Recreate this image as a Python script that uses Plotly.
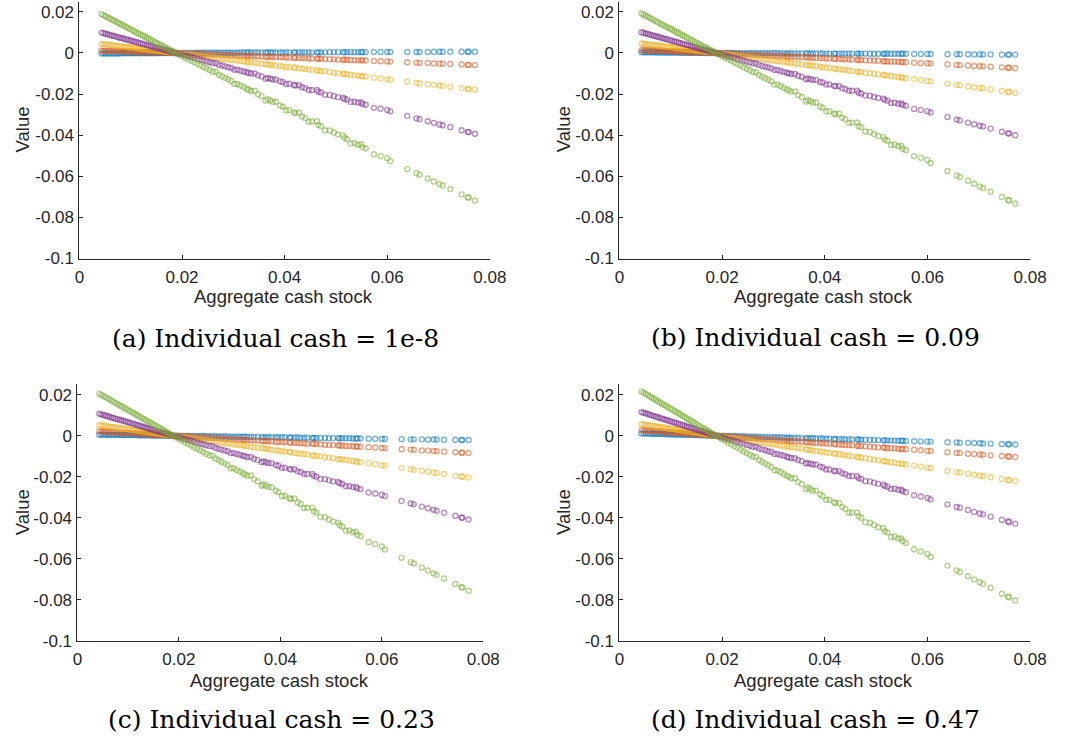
import plotly.graph_objects as go

# Aggregate cash stock grid (shared by the four panels)
agg_cash = [
    0.0043, 0.0047, 0.0051, 0.0055, 0.0059, 0.0063, 0.0067, 0.0071, 0.0075, 0.0079,
    0.0083, 0.0087, 0.0091, 0.0095, 0.0099, 0.0103, 0.0107, 0.0111, 0.0115, 0.0119,
    0.0123, 0.0127, 0.0131, 0.0135, 0.0139, 0.0143, 0.0147, 0.0151, 0.0155, 0.0159,
    0.0163, 0.0167, 0.0171, 0.0175, 0.0179, 0.0183,
    0.0188, 0.0194, 0.0200, 0.0206, 0.0212, 0.0218, 0.0224, 0.0230, 0.0236, 0.0242,
    0.0248, 0.0254, 0.0260, 0.0266, 0.0272, 0.0278, 0.0284, 0.0290, 0.0296, 0.0302,
    0.0308, 0.0314, 0.0320, 0.0326, 0.0330,
    0.0335, 0.0342, 0.0348, 0.0355, 0.0363, 0.0367, 0.0372, 0.0377, 0.0383, 0.0391,
    0.0396, 0.0403, 0.0409, 0.0418, 0.0421, 0.0428, 0.0434, 0.0440, 0.0447, 0.0453,
    0.0463, 0.0466, 0.0471, 0.0479, 0.0488, 0.0496, 0.0504, 0.0514, 0.0517, 0.0522,
    0.0529, 0.0536, 0.0543, 0.0549, 0.0552, 0.0558, 0.0574, 0.0587, 0.0600, 0.0606,
    0.0639, 0.0657, 0.0663, 0.0679, 0.0691, 0.0702, 0.0708, 0.0723, 0.0745, 0.0757,
    0.0759, 0.0771,
]

# ---------------- panel (a): individual cash = 1e-8 ----------------
blue_a = [
    -0.0002, -0.0002, -0.0002, -0.0002, -0.0002, -0.0002, -0.0002, -0.0002, -0.0002, -0.0002,
    -0.0001, -0.0001, -0.0001, -0.0001, -0.0001, -0.0001, -0.0001, -0.0001, -0.0001, -0.0001,
    -0.0001, -0.0001, -0.0001, -0.0001, -0.0001, -0.0001, -0.0001, -0.0001, 0.0, 0.0,
    0.0, 0.0, 0.0, 0.0, 0.0, 0.0,
    0.0, 0.0, 0.0, 0.0, 0.0, 0.0, 0.0, 0.0001, 0.0001, 0.0001,
    0.0001, 0.0001, 0.0001, 0.0001, 0.0001, 0.0001, 0.0001, 0.0001, 0.0001, 0.0001,
    0.0001, 0.0002, 0.0002, 0.0002, 0.0002, 0.0002, 0.0002, 0.0002, 0.0002, 0.0002,
    0.0002, 0.0002, 0.0002, 0.0002, 0.0002, 0.0002, 0.0003, 0.0003, 0.0003, 0.0003,
    0.0003, 0.0003, 0.0003, 0.0003, 0.0003, 0.0003, 0.0003, 0.0003, 0.0003, 0.0004,
    0.0004, 0.0004, 0.0004, 0.0004, 0.0004, 0.0004, 0.0004, 0.0004, 0.0004, 0.0004,
    0.0004, 0.0005, 0.0005, 0.0005, 0.0005,
    0.0005, 0.0005, 0.0005, 0.0005, 0.0006, 0.0006, 0.0006, 0.0006, 0.0006, 0.0006,
    0.0006, 0.0006,
]
red_a = [
    0.0011, 0.0011, 0.0010, 0.0010, 0.0010, 0.0009, 0.0009, 0.0009, 0.0009, 0.0008,
    0.0008, 0.0008, 0.0007, 0.0007, 0.0007, 0.0006, 0.0006, 0.0006, 0.0006, 0.0005,
    0.0005, 0.0005, 0.0004, 0.0004, 0.0004, 0.0003, 0.0003, 0.0003, 0.0003, 0.0002,
    0.0002, 0.0002, 0.0001, 0.0001, 0.0001, 0.0,
    0.0, -0.0001, -0.0001, -0.0002, -0.0002, -0.0003, -0.0004, -0.0004, -0.0005, -0.0005,
    -0.0006, -0.0007, -0.0007, -0.0008, -0.0008, -0.0009, -0.0010, -0.0010, -0.0011, -0.0011,
    -0.0012, -0.0013, -0.0013, -0.0014, -0.0014, -0.0015, -0.0015, -0.0016, -0.0017, -0.0018,
    -0.0018, -0.0018, -0.0019, -0.0020, -0.0020, -0.0021, -0.0022, -0.0022, -0.0023, -0.0023,
    -0.0024, -0.0025, -0.0025, -0.0026, -0.0027, -0.0028, -0.0028, -0.0028, -0.0029, -0.0030,
    -0.0031, -0.0032, -0.0033, -0.0033, -0.0033, -0.0034, -0.0035, -0.0036, -0.0036, -0.0036,
    -0.0037, -0.0039, -0.0040, -0.0041, -0.0042,
    -0.0045, -0.0047, -0.0048, -0.0049, -0.0051, -0.0052, -0.0052, -0.0054, -0.0056, -0.0058,
    -0.0058, -0.0059,
]
yellow_a = [
    0.0044, 0.0043, 0.0042, 0.0040, 0.0039, 0.0038, 0.0037, 0.0035, 0.0034, 0.0033,
    0.0032, 0.0031, 0.0029, 0.0028, 0.0027, 0.0026, 0.0025, 0.0023, 0.0022, 0.0021,
    0.0020, 0.0019, 0.0017, 0.0016, 0.0015, 0.0014, 0.0012, 0.0011, 0.0010, 0.0009,
    0.0008, 0.0006, 0.0005, 0.0004, 0.0003, 0.0002,
    0.0, -0.0002, -0.0004, -0.0006, -0.0007, -0.0009, -0.0011, -0.0013, -0.0015, -0.0017,
    -0.0019, -0.0020, -0.0022, -0.0024, -0.0026, -0.0028, -0.0030, -0.0032, -0.0034, -0.0035,
    -0.0037, -0.0039, -0.0041, -0.0043, -0.0044, -0.0046, -0.0048, -0.0050, -0.0052, -0.0054,
    -0.0056, -0.0057, -0.0059, -0.0061, -0.0063, -0.0065, -0.0067, -0.0069, -0.0071, -0.0072,
    -0.0074, -0.0076, -0.0078, -0.0080, -0.0082, -0.0085, -0.0086, -0.0088, -0.0090, -0.0093,
    -0.0096, -0.0098, -0.0101, -0.0102, -0.0104, -0.0106, -0.0108, -0.0110, -0.0112, -0.0113,
    -0.0115, -0.0120, -0.0124, -0.0128, -0.0130,
    -0.0140, -0.0145, -0.0147, -0.0152, -0.0155, -0.0158, -0.0160, -0.0165, -0.0171, -0.0175,
    -0.0175, -0.0179,
]
purple_a = [
    0.0099, 0.0096, 0.0094, 0.0091, 0.0088, 0.0085, 0.0083, 0.0080, 0.0077, 0.0074,
    0.0072, 0.0069, 0.0066, 0.0064, 0.0061, 0.0058, 0.0055, 0.0053, 0.0050, 0.0047,
    0.0044, 0.0042, 0.0039, 0.0036, 0.0033, 0.0031, 0.0028, 0.0025, 0.0023, 0.0020,
    0.0017, 0.0014, 0.0012, 0.0009, 0.0006, 0.0003,
    0.0, -0.0004, -0.0008, -0.0012, -0.0016, -0.0020, -0.0024, -0.0029, -0.0033, -0.0037,
    -0.0041, -0.0045, -0.0049, -0.0050, -0.0057, -0.0061, -0.0065, -0.0069, -0.0073, -0.0082,
    -0.0082, -0.0086, -0.0090, -0.0094, -0.0097, -0.0100, -0.0100, -0.0109, -0.0114, -0.0125,
    -0.0122, -0.0125, -0.0129, -0.0129, -0.0138, -0.0141, -0.0151, -0.0150, -0.0156, -0.0158,
    -0.0157, -0.0167, -0.0171, -0.0180, -0.0180, -0.0180, -0.0189, -0.0192, -0.0203, -0.0204,
    -0.0210, -0.0215, -0.0218, -0.0224, -0.0227, -0.0238, -0.0237, -0.0241, -0.0241, -0.0248,
    -0.0252, -0.0267, -0.0271, -0.0277, -0.0284,
    -0.0306, -0.0318, -0.0322, -0.0332, -0.0340, -0.0348, -0.0352, -0.0361, -0.0376, -0.0384,
    -0.0385, -0.0393,
]
green_a = [
    0.0189, 0.0184, 0.0179, 0.0173, 0.0168, 0.0163, 0.0158, 0.0153, 0.0147, 0.0142,
    0.0137, 0.0132, 0.0126, 0.0121, 0.0116, 0.0111, 0.0106, 0.0100, 0.0095, 0.0090,
    0.0085, 0.0080, 0.0074, 0.0069, 0.0064, 0.0059, 0.0053, 0.0048, 0.0043, 0.0038,
    0.0033, 0.0027, 0.0022, 0.0017, 0.0012, 0.0007,
    0.0, -0.0008, -0.0015, -0.0023, -0.0030, -0.0038, -0.0045, -0.0053, -0.0060, -0.0068,
    -0.0075, -0.0083, -0.0091, -0.0092, -0.0106, -0.0113, -0.0121, -0.0128, -0.0136, -0.0151,
    -0.0151, -0.0158, -0.0166, -0.0174, -0.0179, -0.0185, -0.0184, -0.0201, -0.0210, -0.0232,
    -0.0225, -0.0231, -0.0238, -0.0237, -0.0255, -0.0262, -0.0280, -0.0278, -0.0289, -0.0293,
    -0.0290, -0.0309, -0.0317, -0.0335, -0.0333, -0.0332, -0.0350, -0.0356, -0.0376, -0.0377,
    -0.0387, -0.0397, -0.0401, -0.0414, -0.0420, -0.0441, -0.0438, -0.0447, -0.0444, -0.0458,
    -0.0465, -0.0493, -0.0502, -0.0512, -0.0526,
    -0.0564, -0.0585, -0.0592, -0.0611, -0.0625, -0.0638, -0.0645, -0.0662, -0.0688, -0.0702,
    -0.0704, -0.0718,
]

# ---------------- panel (b): individual cash = 0.09 ----------------
blue_b = [
    0.0003, 0.0003, 0.0003, 0.0003, 0.0003, 0.0003, 0.0003, 0.0002, 0.0002, 0.0002,
    0.0002, 0.0002, 0.0002, 0.0002, 0.0002, 0.0002, 0.0002, 0.0002, 0.0002, 0.0001,
    0.0001, 0.0001, 0.0001, 0.0001, 0.0001, 0.0001, 0.0001, 0.0001, 0.0001, 0.0001,
    0.0001, 0.0, 0.0, 0.0, 0.0, 0.0,
    0.0, 0.0, 0.0, 0.0, 0.0, 0.0, 0.0, -0.0001, -0.0001, -0.0001,
    -0.0001, -0.0001, -0.0001, -0.0001, -0.0001, -0.0001, -0.0001, -0.0001, -0.0001, -0.0001,
    -0.0001, -0.0002, -0.0002, -0.0002, -0.0002, -0.0002, -0.0002, -0.0002, -0.0002, -0.0002,
    -0.0002, -0.0002, -0.0002, -0.0002, -0.0002, -0.0002, -0.0003, -0.0003, -0.0003, -0.0003,
    -0.0003, -0.0003, -0.0003, -0.0003, -0.0003, -0.0003, -0.0003, -0.0003, -0.0003, -0.0004,
    -0.0004, -0.0004, -0.0004, -0.0004, -0.0004, -0.0004, -0.0004, -0.0004, -0.0004, -0.0004,
    -0.0004, -0.0005, -0.0005, -0.0005, -0.0005,
    -0.0006, -0.0006, -0.0006, -0.0006, -0.0007, -0.0007, -0.0007, -0.0007, -0.0008, -0.0008,
    -0.0008, -0.0008,
]
red_b = [
    0.0014, 0.0014, 0.0013, 0.0013, 0.0012, 0.0012, 0.0012, 0.0011, 0.0011, 0.0011,
    0.0010, 0.0010, 0.0009, 0.0009, 0.0009, 0.0008, 0.0008, 0.0007, 0.0007, 0.0007,
    0.0006, 0.0006, 0.0006, 0.0005, 0.0005, 0.0004, 0.0004, 0.0004, 0.0003, 0.0003,
    0.0002, 0.0002, 0.0002, 0.0001, 0.0001, 0.0001,
    0.0, -0.0001, -0.0001, -0.0002, -0.0003, -0.0004, -0.0004, -0.0005, -0.0006, -0.0007,
    -0.0007, -0.0008, -0.0009, -0.0009, -0.0010, -0.0011, -0.0012, -0.0012, -0.0013, -0.0014,
    -0.0015, -0.0015, -0.0016, -0.0017, -0.0017, -0.0018, -0.0019, -0.0019, -0.0020, -0.0021,
    -0.0022, -0.0022, -0.0023, -0.0024, -0.0025, -0.0025, -0.0026, -0.0027, -0.0028, -0.0028,
    -0.0029, -0.0030, -0.0031, -0.0032, -0.0032, -0.0033, -0.0034, -0.0034, -0.0035, -0.0037,
    -0.0037, -0.0038, -0.0040, -0.0040, -0.0041, -0.0042, -0.0042, -0.0043, -0.0044, -0.0044,
    -0.0045, -0.0047, -0.0049, -0.0050, -0.0051,
    -0.0055, -0.0058, -0.0059, -0.0061, -0.0063, -0.0064, -0.0065, -0.0067, -0.0070, -0.0072,
    -0.0072, -0.0074,
]
yellow_b = [
    0.0046, 0.0045, 0.0043, 0.0042, 0.0041, 0.0040, 0.0038, 0.0037, 0.0036, 0.0035,
    0.0033, 0.0032, 0.0031, 0.0030, 0.0028, 0.0027, 0.0026, 0.0024, 0.0023, 0.0022,
    0.0021, 0.0019, 0.0018, 0.0017, 0.0016, 0.0014, 0.0013, 0.0012, 0.0010, 0.0009,
    0.0008, 0.0007, 0.0005, 0.0004, 0.0003, 0.0002,
    0.0, -0.0002, -0.0004, -0.0006, -0.0008, -0.0010, -0.0012, -0.0014, -0.0016, -0.0018,
    -0.0020, -0.0022, -0.0024, -0.0026, -0.0028, -0.0030, -0.0032, -0.0034, -0.0036, -0.0038,
    -0.0040, -0.0041, -0.0043, -0.0045, -0.0047, -0.0048, -0.0051, -0.0053, -0.0055, -0.0058,
    -0.0059, -0.0061, -0.0062, -0.0064, -0.0067, -0.0069, -0.0071, -0.0073, -0.0076, -0.0077,
    -0.0079, -0.0081, -0.0083, -0.0085, -0.0087, -0.0091, -0.0092, -0.0093, -0.0096, -0.0099,
    -0.0101, -0.0104, -0.0107, -0.0108, -0.0110, -0.0112, -0.0115, -0.0117, -0.0119, -0.0120,
    -0.0122, -0.0127, -0.0131, -0.0136, -0.0138,
    -0.0149, -0.0155, -0.0157, -0.0163, -0.0167, -0.0170, -0.0172, -0.0178, -0.0185, -0.0189,
    -0.0190, -0.0194,
]
purple_b = [
    0.0101, 0.0098, 0.0095, 0.0093, 0.0090, 0.0087, 0.0084, 0.0081, 0.0079, 0.0076,
    0.0073, 0.0070, 0.0068, 0.0065, 0.0062, 0.0059, 0.0056, 0.0054, 0.0051, 0.0048,
    0.0045, 0.0042, 0.0040, 0.0037, 0.0034, 0.0031, 0.0029, 0.0026, 0.0023, 0.0020,
    0.0017, 0.0015, 0.0012, 0.0009, 0.0006, 0.0003,
    0.0, -0.0004, -0.0008, -0.0013, -0.0017, -0.0021, -0.0025, -0.0029, -0.0033, -0.0038,
    -0.0042, -0.0046, -0.0050, -0.0051, -0.0058, -0.0063, -0.0067, -0.0071, -0.0075, -0.0083,
    -0.0083, -0.0088, -0.0092, -0.0096, -0.0099, -0.0102, -0.0102, -0.0111, -0.0116, -0.0128,
    -0.0124, -0.0128, -0.0131, -0.0131, -0.0141, -0.0144, -0.0154, -0.0153, -0.0160, -0.0162,
    -0.0161, -0.0171, -0.0175, -0.0184, -0.0184, -0.0184, -0.0193, -0.0197, -0.0207, -0.0208,
    -0.0214, -0.0219, -0.0222, -0.0228, -0.0232, -0.0243, -0.0242, -0.0247, -0.0246, -0.0253,
    -0.0257, -0.0272, -0.0277, -0.0283, -0.0290,
    -0.0312, -0.0324, -0.0328, -0.0339, -0.0347, -0.0354, -0.0358, -0.0368, -0.0383, -0.0391,
    -0.0392, -0.0400,
]
green_b = [
    0.0192, 0.0187, 0.0181, 0.0176, 0.0171, 0.0166, 0.0160, 0.0155, 0.0150, 0.0144,
    0.0139, 0.0134, 0.0128, 0.0123, 0.0118, 0.0113, 0.0107, 0.0102, 0.0097, 0.0091,
    0.0086, 0.0081, 0.0075, 0.0070, 0.0065, 0.0060, 0.0054, 0.0049, 0.0044, 0.0038,
    0.0033, 0.0028, 0.0023, 0.0017, 0.0012, 0.0007,
    0.0, -0.0008, -0.0015, -0.0023, -0.0031, -0.0038, -0.0046, -0.0054, -0.0061, -0.0069,
    -0.0077, -0.0084, -0.0092, -0.0094, -0.0107, -0.0115, -0.0123, -0.0130, -0.0138, -0.0154,
    -0.0154, -0.0161, -0.0169, -0.0177, -0.0182, -0.0188, -0.0187, -0.0205, -0.0214, -0.0236,
    -0.0229, -0.0235, -0.0242, -0.0241, -0.0260, -0.0266, -0.0285, -0.0283, -0.0294, -0.0298,
    -0.0295, -0.0315, -0.0322, -0.0340, -0.0339, -0.0338, -0.0356, -0.0362, -0.0382, -0.0384,
    -0.0394, -0.0404, -0.0408, -0.0421, -0.0427, -0.0448, -0.0445, -0.0454, -0.0452, -0.0466,
    -0.0473, -0.0502, -0.0510, -0.0521, -0.0535,
    -0.0574, -0.0596, -0.0603, -0.0622, -0.0636, -0.0650, -0.0657, -0.0675, -0.0701, -0.0715,
    -0.0718, -0.0732,
]

# ---------------- panel (c): individual cash = 0.23 ----------------
blue_c = [
    0.0005, 0.0005, 0.0005, 0.0005, 0.0004, 0.0004, 0.0004, 0.0004, 0.0004, 0.0004,
    0.0004, 0.0003, 0.0003, 0.0003, 0.0003, 0.0003, 0.0003, 0.0003, 0.0003, 0.0002,
    0.0002, 0.0002, 0.0002, 0.0002, 0.0002, 0.0002, 0.0001, 0.0001, 0.0001, 0.0001,
    0.0001, 0.0001, 0.0001, 0.0, 0.0, 0.0,
    0.0, 0.0, 0.0, -0.0001, -0.0001, -0.0001, -0.0001, -0.0002, -0.0002, -0.0002,
    -0.0002, -0.0003, -0.0003, -0.0003, -0.0003, -0.0004, -0.0004, -0.0004, -0.0004, -0.0005,
    -0.0005, -0.0005, -0.0005, -0.0005, -0.0005, -0.0006, -0.0006, -0.0006, -0.0006, -0.0007,
    -0.0007, -0.0007, -0.0007, -0.0007, -0.0008, -0.0008, -0.0008, -0.0008, -0.0009, -0.0009,
    -0.0009, -0.0009, -0.0010, -0.0010, -0.0010, -0.0011, -0.0011, -0.0011, -0.0011, -0.0011,
    -0.0012, -0.0012, -0.0012, -0.0013, -0.0013, -0.0013, -0.0013, -0.0014, -0.0014, -0.0014,
    -0.0014, -0.0015, -0.0015, -0.0016, -0.0016,
    -0.0017, -0.0018, -0.0018, -0.0018, -0.0019, -0.0019, -0.0019, -0.0020, -0.0020, -0.0021,
    -0.0021, -0.0021,
]
red_c = [
    0.0021, 0.0020, 0.0020, 0.0019, 0.0019, 0.0018, 0.0018, 0.0017, 0.0016, 0.0016,
    0.0015, 0.0015, 0.0014, 0.0013, 0.0013, 0.0012, 0.0012, 0.0011, 0.0011, 0.0010,
    0.0009, 0.0009, 0.0008, 0.0008, 0.0007, 0.0007, 0.0006, 0.0005, 0.0005, 0.0004,
    0.0004, 0.0003, 0.0002, 0.0002, 0.0001, 0.0001,
    0.0, -0.0001, -0.0002, -0.0003, -0.0003, -0.0004, -0.0005, -0.0006, -0.0007, -0.0008,
    -0.0009, -0.0010, -0.0010, -0.0011, -0.0012, -0.0013, -0.0014, -0.0015, -0.0016, -0.0017,
    -0.0017, -0.0018, -0.0019, -0.0020, -0.0021, -0.0021, -0.0022, -0.0023, -0.0024, -0.0025,
    -0.0026, -0.0027, -0.0028, -0.0028, -0.0030, -0.0030, -0.0031, -0.0032, -0.0033, -0.0034,
    -0.0035, -0.0036, -0.0037, -0.0038, -0.0039, -0.0040, -0.0040, -0.0041, -0.0042, -0.0044,
    -0.0045, -0.0046, -0.0047, -0.0048, -0.0049, -0.0050, -0.0051, -0.0052, -0.0053, -0.0053,
    -0.0054, -0.0056, -0.0058, -0.0060, -0.0061,
    -0.0066, -0.0068, -0.0069, -0.0072, -0.0073, -0.0075, -0.0076, -0.0078, -0.0081, -0.0083,
    -0.0083, -0.0085,
]
yellow_c = [
    0.0051, 0.0050, 0.0048, 0.0047, 0.0045, 0.0044, 0.0043, 0.0041, 0.0040, 0.0038,
    0.0037, 0.0036, 0.0034, 0.0033, 0.0031, 0.0030, 0.0028, 0.0027, 0.0026, 0.0024,
    0.0023, 0.0021, 0.0020, 0.0019, 0.0017, 0.0016, 0.0014, 0.0013, 0.0012, 0.0010,
    0.0009, 0.0007, 0.0006, 0.0005, 0.0003, 0.0002,
    0.0, -0.0002, -0.0004, -0.0006, -0.0008, -0.0010, -0.0013, -0.0015, -0.0017, -0.0019,
    -0.0021, -0.0023, -0.0025, -0.0027, -0.0029, -0.0031, -0.0033, -0.0036, -0.0038, -0.0040,
    -0.0042, -0.0044, -0.0046, -0.0048, -0.0049, -0.0051, -0.0054, -0.0056, -0.0058, -0.0061,
    -0.0062, -0.0064, -0.0066, -0.0068, -0.0071, -0.0072, -0.0075, -0.0077, -0.0080, -0.0081,
    -0.0084, -0.0086, -0.0088, -0.0090, -0.0092, -0.0096, -0.0097, -0.0099, -0.0101, -0.0105,
    -0.0107, -0.0110, -0.0114, -0.0115, -0.0116, -0.0119, -0.0121, -0.0124, -0.0126, -0.0127,
    -0.0129, -0.0134, -0.0139, -0.0144, -0.0146,
    -0.0157, -0.0164, -0.0166, -0.0171, -0.0176, -0.0180, -0.0182, -0.0187, -0.0195, -0.0199,
    -0.0200, -0.0204,
]
purple_c = [
    0.0107, 0.0104, 0.0101, 0.0098, 0.0095, 0.0092, 0.0089, 0.0086, 0.0083, 0.0080,
    0.0077, 0.0075, 0.0072, 0.0069, 0.0066, 0.0063, 0.0060, 0.0057, 0.0054, 0.0051,
    0.0048, 0.0045, 0.0042, 0.0039, 0.0036, 0.0033, 0.0030, 0.0027, 0.0024, 0.0021,
    0.0018, 0.0016, 0.0013, 0.0010, 0.0007, 0.0004,
    0.0, -0.0004, -0.0008, -0.0013, -0.0017, -0.0021, -0.0025, -0.0030, -0.0034, -0.0038,
    -0.0042, -0.0047, -0.0051, -0.0052, -0.0059, -0.0064, -0.0068, -0.0072, -0.0076, -0.0085,
    -0.0085, -0.0089, -0.0093, -0.0098, -0.0100, -0.0104, -0.0104, -0.0113, -0.0118, -0.0130,
    -0.0126, -0.0130, -0.0134, -0.0134, -0.0143, -0.0147, -0.0157, -0.0156, -0.0162, -0.0165,
    -0.0164, -0.0174, -0.0178, -0.0187, -0.0187, -0.0187, -0.0196, -0.0200, -0.0211, -0.0212,
    -0.0218, -0.0223, -0.0226, -0.0232, -0.0236, -0.0247, -0.0246, -0.0251, -0.0250, -0.0257,
    -0.0261, -0.0277, -0.0282, -0.0288, -0.0295,
    -0.0318, -0.0331, -0.0335, -0.0346, -0.0354, -0.0361, -0.0366, -0.0376, -0.0391, -0.0399,
    -0.0401, -0.0409,
]
green_c = [
    0.0205, 0.0199, 0.0194, 0.0188, 0.0182, 0.0177, 0.0171, 0.0165, 0.0160, 0.0154,
    0.0148, 0.0143, 0.0137, 0.0131, 0.0126, 0.0120, 0.0115, 0.0109, 0.0103, 0.0098,
    0.0092, 0.0086, 0.0081, 0.0075, 0.0069, 0.0064, 0.0058, 0.0052, 0.0047, 0.0041,
    0.0035, 0.0030, 0.0024, 0.0018, 0.0013, 0.0007,
    0.0, -0.0008, -0.0016, -0.0024, -0.0032, -0.0040, -0.0048, -0.0056, -0.0064, -0.0072,
    -0.0080, -0.0088, -0.0096, -0.0098, -0.0111, -0.0119, -0.0127, -0.0135, -0.0143, -0.0159,
    -0.0159, -0.0167, -0.0175, -0.0183, -0.0188, -0.0195, -0.0194, -0.0212, -0.0222, -0.0244,
    -0.0238, -0.0244, -0.0251, -0.0251, -0.0269, -0.0276, -0.0295, -0.0293, -0.0305, -0.0309,
    -0.0306, -0.0326, -0.0334, -0.0353, -0.0352, -0.0351, -0.0369, -0.0376, -0.0396, -0.0398,
    -0.0409, -0.0419, -0.0424, -0.0437, -0.0443, -0.0464, -0.0462, -0.0471, -0.0469, -0.0483,
    -0.0491, -0.0520, -0.0529, -0.0541, -0.0555,
    -0.0595, -0.0617, -0.0624, -0.0644, -0.0658, -0.0672, -0.0679, -0.0697, -0.0724, -0.0739,
    -0.0741, -0.0756,
]

# ---------------- panel (d): individual cash = 0.47 ----------------
blue_d = [
    0.0011, 0.0011, 0.0010, 0.0010, 0.0010, 0.0009, 0.0009, 0.0009, 0.0009, 0.0008,
    0.0008, 0.0008, 0.0007, 0.0007, 0.0007, 0.0006, 0.0006, 0.0006, 0.0006, 0.0005,
    0.0005, 0.0005, 0.0004, 0.0004, 0.0004, 0.0003, 0.0003, 0.0003, 0.0003, 0.0002,
    0.0002, 0.0002, 0.0001, 0.0001, 0.0001, 0.0,
    0.0, 0.0, -0.0001, -0.0001, -0.0002, -0.0002, -0.0002, -0.0003, -0.0003, -0.0004,
    -0.0004, -0.0005, -0.0005, -0.0005, -0.0006, -0.0006, -0.0007, -0.0007, -0.0007, -0.0008,
    -0.0008, -0.0009, -0.0009, -0.0010, -0.0010, -0.0010, -0.0011, -0.0011, -0.0012, -0.0012,
    -0.0012, -0.0013, -0.0013, -0.0013, -0.0014, -0.0014, -0.0015, -0.0015, -0.0016, -0.0016,
    -0.0017, -0.0017, -0.0017, -0.0018, -0.0018, -0.0019, -0.0019, -0.0020, -0.0020, -0.0021,
    -0.0021, -0.0022, -0.0023, -0.0023, -0.0023, -0.0024, -0.0024, -0.0025, -0.0025, -0.0025,
    -0.0026, -0.0027, -0.0028, -0.0029, -0.0029,
    -0.0032, -0.0033, -0.0034, -0.0035, -0.0036, -0.0037, -0.0038, -0.0039, -0.0041, -0.0042,
    -0.0042, -0.0043,
]
red_d = [
    0.0027, 0.0026, 0.0026, 0.0025, 0.0024, 0.0023, 0.0023, 0.0022, 0.0021, 0.0020,
    0.0020, 0.0019, 0.0018, 0.0017, 0.0017, 0.0016, 0.0015, 0.0014, 0.0014, 0.0013,
    0.0012, 0.0011, 0.0011, 0.0010, 0.0009, 0.0008, 0.0008, 0.0007, 0.0006, 0.0005,
    0.0005, 0.0004, 0.0003, 0.0002, 0.0002, 0.0001,
    0.0, -0.0001, -0.0002, -0.0003, -0.0004, -0.0005, -0.0006, -0.0008, -0.0009, -0.0010,
    -0.0011, -0.0012, -0.0013, -0.0014, -0.0015, -0.0016, -0.0017, -0.0018, -0.0019, -0.0020,
    -0.0021, -0.0023, -0.0024, -0.0025, -0.0025, -0.0026, -0.0028, -0.0029, -0.0030, -0.0031,
    -0.0032, -0.0033, -0.0034, -0.0035, -0.0036, -0.0037, -0.0038, -0.0040, -0.0041, -0.0042,
    -0.0043, -0.0044, -0.0045, -0.0046, -0.0047, -0.0049, -0.0050, -0.0051, -0.0052, -0.0054,
    -0.0055, -0.0057, -0.0058, -0.0059, -0.0060, -0.0061, -0.0062, -0.0064, -0.0065, -0.0065,
    -0.0066, -0.0069, -0.0071, -0.0074, -0.0075,
    -0.0081, -0.0084, -0.0085, -0.0088, -0.0090, -0.0092, -0.0093, -0.0096, -0.0099, -0.0102,
    -0.0102, -0.0104,
]
yellow_d = [
    0.0056, 0.0054, 0.0053, 0.0051, 0.0050, 0.0048, 0.0047, 0.0045, 0.0044, 0.0042,
    0.0041, 0.0039, 0.0037, 0.0036, 0.0034, 0.0033, 0.0031, 0.0030, 0.0028, 0.0027,
    0.0025, 0.0024, 0.0022, 0.0020, 0.0019, 0.0017, 0.0016, 0.0014, 0.0013, 0.0011,
    0.0010, 0.0008, 0.0007, 0.0005, 0.0003, 0.0002,
    0.0, -0.0002, -0.0005, -0.0007, -0.0009, -0.0011, -0.0014, -0.0016, -0.0018, -0.0020,
    -0.0023, -0.0025, -0.0027, -0.0030, -0.0032, -0.0034, -0.0036, -0.0039, -0.0041, -0.0043,
    -0.0046, -0.0048, -0.0050, -0.0052, -0.0054, -0.0056, -0.0058, -0.0061, -0.0063, -0.0066,
    -0.0068, -0.0070, -0.0072, -0.0074, -0.0077, -0.0079, -0.0082, -0.0084, -0.0087, -0.0088,
    -0.0091, -0.0093, -0.0096, -0.0098, -0.0101, -0.0104, -0.0105, -0.0107, -0.0110, -0.0114,
    -0.0117, -0.0120, -0.0124, -0.0125, -0.0127, -0.0129, -0.0132, -0.0135, -0.0137, -0.0138,
    -0.0140, -0.0146, -0.0151, -0.0156, -0.0159,
    -0.0171, -0.0178, -0.0180, -0.0186, -0.0191, -0.0195, -0.0197, -0.0203, -0.0211, -0.0216,
    -0.0217, -0.0221,
]
purple_d = [
    0.0115, 0.0112, 0.0109, 0.0106, 0.0102, 0.0099, 0.0096, 0.0093, 0.0090, 0.0086,
    0.0083, 0.0080, 0.0077, 0.0074, 0.0071, 0.0067, 0.0064, 0.0061, 0.0058, 0.0055,
    0.0052, 0.0048, 0.0045, 0.0042, 0.0039, 0.0036, 0.0033, 0.0029, 0.0026, 0.0023,
    0.0020, 0.0017, 0.0013, 0.0010, 0.0007, 0.0004,
    0.0, -0.0004, -0.0009, -0.0013, -0.0018, -0.0022, -0.0027, -0.0031, -0.0036, -0.0040,
    -0.0045, -0.0049, -0.0054, -0.0055, -0.0063, -0.0067, -0.0071, -0.0076, -0.0080, -0.0089,
    -0.0089, -0.0094, -0.0098, -0.0103, -0.0106, -0.0109, -0.0110, -0.0119, -0.0124, -0.0136,
    -0.0133, -0.0137, -0.0141, -0.0141, -0.0151, -0.0155, -0.0165, -0.0165, -0.0171, -0.0174,
    -0.0173, -0.0183, -0.0188, -0.0197, -0.0197, -0.0198, -0.0207, -0.0211, -0.0222, -0.0223,
    -0.0229, -0.0235, -0.0239, -0.0245, -0.0249, -0.0260, -0.0259, -0.0264, -0.0264, -0.0271,
    -0.0276, -0.0291, -0.0297, -0.0304, -0.0311,
    -0.0335, -0.0348, -0.0352, -0.0363, -0.0372, -0.0380, -0.0384, -0.0395, -0.0410, -0.0419,
    -0.0421, -0.0429,
]
green_d = [
    0.0216, 0.0210, 0.0204, 0.0198, 0.0192, 0.0186, 0.0180, 0.0174, 0.0168, 0.0162,
    0.0156, 0.0150, 0.0145, 0.0139, 0.0133, 0.0127, 0.0121, 0.0115, 0.0109, 0.0103,
    0.0097, 0.0091, 0.0085, 0.0079, 0.0073, 0.0067, 0.0061, 0.0055, 0.0049, 0.0043,
    0.0037, 0.0031, 0.0025, 0.0019, 0.0013, 0.0007,
    0.0, -0.0008, -0.0017, -0.0025, -0.0034, -0.0042, -0.0051, -0.0059, -0.0068, -0.0076,
    -0.0085, -0.0093, -0.0102, -0.0104, -0.0119, -0.0127, -0.0136, -0.0144, -0.0153, -0.0169,
    -0.0170, -0.0178, -0.0187, -0.0195, -0.0201, -0.0208, -0.0208, -0.0226, -0.0236, -0.0260,
    -0.0253, -0.0260, -0.0268, -0.0268, -0.0287, -0.0294, -0.0314, -0.0313, -0.0325, -0.0330,
    -0.0328, -0.0348, -0.0357, -0.0376, -0.0375, -0.0375, -0.0393, -0.0400, -0.0422, -0.0425,
    -0.0436, -0.0447, -0.0452, -0.0466, -0.0473, -0.0495, -0.0492, -0.0502, -0.0501, -0.0515,
    -0.0524, -0.0554, -0.0565, -0.0577, -0.0592,
    -0.0634, -0.0657, -0.0665, -0.0686, -0.0701, -0.0715, -0.0723, -0.0742, -0.0771, -0.0786,
    -0.0789, -0.0804,
]

# Tick marks and captions
x_ticks = [0, 0.02, 0.04, 0.06, 0.08]
x_tick_text = ["0", "0.02", "0.04", "0.06", "0.08"]
y_ticks = [-0.1, -0.08, -0.06, -0.04, -0.02, 0, 0.02]
y_tick_text = ["-0.1", "-0.08", "-0.06", "-0.04", "-0.02", "0", "0.02"]
captions = [
    "(a) Individual cash = 1e-8",
    "(b) Individual cash = 0.09",
    "(c) Individual cash = 0.23",
    "(d) Individual cash = 0.47",
]

panel_series = [
    [blue_a, red_a, yellow_a, purple_a, green_a],
    [blue_b, red_b, yellow_b, purple_b, green_b],
    [blue_c, red_c, yellow_c, purple_c, green_c],
    [blue_d, red_d, yellow_d, purple_d, green_d],
]
for group in panel_series:
    for s in group:
        assert len(s) == len(agg_cash), [len(v) for g in panel_series for v in g]

line_colors = ["#0072BD", "#D95319", "#EDB120", "#7E2F8E", "#77AC30"]

W, H = 1069, 751
# plot-area edges in pixels: left, right, top, bottom
frames = [
    (76.0, 495.0, 1.6, 262.0),
    (627.3, 1046.7, 1.6, 262.0),
    (74.0, 488.3, 389.6, 649.3),
    (627.3, 1046.7, 389.6, 649.3),
]
xlabel_pos = [(284, 301), (835.5, 301), (280, 690), (835.5, 690)]
ylabel_pos = [(17.5, 131), (569.7, 131), (17.5, 519), (569.7, 519)]
caption_pos = [(276, 343), (828, 342), (272.5, 729), (828, 729)]

AXIS_COLOR = "#262626"
SANS = "Liberation Sans, Arial, Helvetica, sans-serif"
SERIF = "DejaVu Serif, serif"

fig = go.Figure()
annotations = []
layout_axes = {}

for k, (group, caption) in enumerate(zip(panel_series, captions)):
    suffix = "" if k == 0 else str(k + 1)
    xref, yref = "x" + suffix, "y" + suffix
    left, right, top, bottom = frames[k]

    for values, color in zip(group, line_colors):
        fig.add_trace(go.Scatter(
            x=agg_cash, y=values, mode="markers", xaxis=xref, yaxis=yref,
            marker=dict(symbol="circle-open", size=5, opacity=0.55,
                        color=color, line=dict(width=1.4, color=color)),
            hoverinfo="skip", showlegend=False,
        ))

    layout_axes["xaxis" + suffix] = dict(
        domain=[left / W, right / W], range=[0, 0.08], anchor=yref,
        tickvals=x_ticks, ticktext=x_tick_text,
        ticks="inside", ticklen=4, tickwidth=1, tickcolor=AXIS_COLOR,
        showline=True, linecolor=AXIS_COLOR, linewidth=1,
        showgrid=False, zeroline=False, ticklabelstandoff=3,
        tickfont=dict(family=SANS, size=17, color=AXIS_COLOR),
    )
    layout_axes["yaxis" + suffix] = dict(
        domain=[1 - bottom / H, 1 - top / H], range=[-0.1, 0.025], anchor=xref,
        tickvals=y_ticks, ticktext=y_tick_text,
        ticks="inside", ticklen=4, tickwidth=1, tickcolor=AXIS_COLOR,
        showline=True, linecolor=AXIS_COLOR, linewidth=1,
        showgrid=False, zeroline=False, ticklabelstandoff=1,
        tickfont=dict(family=SANS, size=17, color=AXIS_COLOR),
    )

    px, py = xlabel_pos[k]
    annotations.append(dict(
        text="Aggregate cash stock", x=px / W, y=1 - py / H, xref="paper", yref="paper",
        xanchor="center", yanchor="middle", showarrow=False,
        font=dict(family=SANS, size=18.5, color=AXIS_COLOR),
    ))
    px, py = ylabel_pos[k]
    annotations.append(dict(
        text="Value", x=px / W, y=1 - py / H, xref="paper", yref="paper",
        xanchor="center", yanchor="middle", showarrow=False, textangle=-90,
        font=dict(family=SANS, size=18.5, color=AXIS_COLOR),
    ))
    px, py = caption_pos[k]
    annotations.append(dict(
        text=caption, x=px / W, y=1 - py / H, xref="paper", yref="paper",
        xanchor="center", yanchor="middle", showarrow=False,
        font=dict(family=SERIF, size=25, color="#000000"),
    ))

fig.update_layout(
    width=W, height=H,
    margin=dict(l=0, r=0, t=0, b=0),
    paper_bgcolor="white", plot_bgcolor="white",
    showlegend=False,
    annotations=annotations,
    **layout_axes,
)

fig.write_html("out.html")
